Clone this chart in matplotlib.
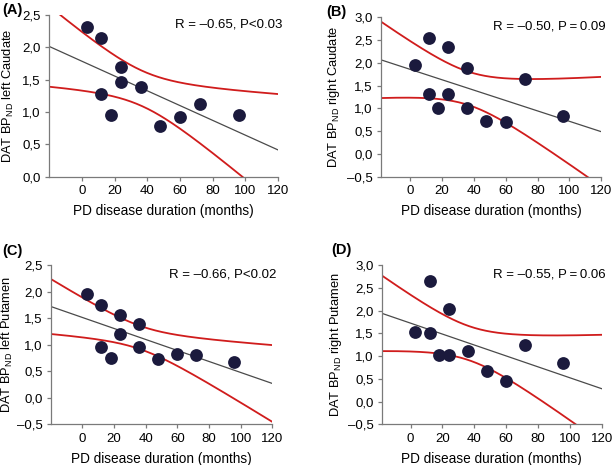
import numpy as np
import matplotlib
matplotlib.use("Agg")
import matplotlib.pyplot as plt
from matplotlib.ticker import FuncFormatter

plt.rcParams['font.family'] = ['Liberation Sans', 'DejaVu Sans']
plt.rcParams['mathtext.fontset'] = 'custom'
plt.rcParams['mathtext.rm'] = 'Liberation Sans'

# 데이터
x_a = [3, 12, 12, 18, 24, 24, 36, 48, 60, 72, 96]
y_a = [2.31, 2.14, 1.28, 0.95, 1.69, 1.47, 1.38, 0.79, 0.92, 1.12, 0.95]

x_b = [3, 12, 12, 18, 24, 24, 36, 36, 48, 60, 72, 96]
y_b = [1.95, 2.54, 1.32, 1.00, 2.34, 1.32, 1.88, 1.00, 0.72, 0.71, 1.64, 0.84]

x_c = [3, 12, 12, 18, 24, 24, 36, 36, 48, 60, 72, 96]
y_c = [1.95, 1.76, 0.96, 0.75, 1.56, 1.21, 1.40, 0.96, 0.74, 0.83, 0.81, 0.68]

x_d = [3, 12, 12, 18, 24, 24, 36, 48, 60, 72, 96]
y_d = [1.53, 2.65, 1.51, 1.03, 2.03, 1.03, 1.11, 0.67, 0.45, 1.25, 0.86]

titles = ["(A)", "(B)", "(C)", "(D)"]
ylabels = ["DAT BP$_\\mathregular{ND}$ left Caudate",
           "DAT BP$_\\mathregular{ND}$ right Caudate",
           "DAT BP$_\\mathregular{ND}$ left Putamen",
           "DAT BP$_\\mathregular{ND}$ right Putamen"]
stats = ["R = \u20130.65, P<0.03", "R = \u20130.50, P\u2009=\u20090.09",
         "R = \u20130.66, P<0.02", "R = \u20130.55, P\u2009=\u20090.06"]
ylims = [(0, 2.5), (-0.5, 3.0), (-0.5, 2.5), (-0.5, 3.0)]
xmins = [-20, -18, -20, -18]

# t(0.975, df)
t_val = {9: 2.262, 10: 2.228}

# 축 위치 [left, bottom, width, height]
positions = [[0.080, 0.620, 0.373, 0.348],
             [0.6205, 0.620, 0.359, 0.343],
             [0.0826, 0.0875, 0.361, 0.342],
             [0.622, 0.0875, 0.358, 0.342]]
label_pos = [(0.003, 0.978), (0.532, 0.974), (0.003, 0.46), (0.540, 0.462)]
ylabel_x = [-0.145, -0.177, -0.16, -0.173]

dot_color = "#1b1a3d"
red = "#d01c1c"
axis_color = "#7a7a7a"


def comma_fmt(v, pos):
    s = f"{v:.1f}".replace(".", ",")
    return s.replace("-", "\u2013")


fig = plt.figure(figsize=(6.14, 4.65), dpi=100)
data = [(x_a, y_a), (x_b, y_b), (x_c, y_c), (x_d, y_d)]

for i, (xs, ys) in enumerate(data):
    ax = fig.add_axes(positions[i])
    x = np.array(xs, dtype=float)
    y = np.array(ys, dtype=float)
    n = len(x)

    # 회귀선 + 95% 신뢰구간
    slope, intercept = np.polyfit(x, y, 1)
    xx = np.linspace(xmins[i], 120, 200)
    fit = intercept + slope * xx
    resid = y - (intercept + slope * x)
    s = np.sqrt(np.sum(resid ** 2) / (n - 2))
    sxx = np.sum((x - x.mean()) ** 2)
    half = t_val[n - 2] * s * np.sqrt(1 / n + (xx - x.mean()) ** 2 / sxx)

    ax.plot(xx, fit, color="#4a4a4a", lw=0.9, zorder=2)
    ax.plot(xx, fit + half, color=red, lw=1.3, zorder=2)
    ax.plot(xx, fit - half, color=red, lw=1.3, zorder=2)
    ax.scatter(x, y, s=85, color=dot_color, zorder=3, linewidths=0)

    ax.set_xlim(xmins[i], 120)
    ax.set_ylim(*ylims[i])
    ax.set_xticks(range(0, 121, 20))
    ax.set_yticks(np.arange(ylims[i][0], ylims[i][1] + 0.01, 0.5))
    ax.yaxis.set_major_formatter(FuncFormatter(comma_fmt))

    for side in ["top", "right"]:
        ax.spines[side].set_visible(False)
    for side in ["left", "bottom"]:
        ax.spines[side].set_color(axis_color)
        ax.spines[side].set_linewidth(0.9)
    ax.tick_params(colors=axis_color, labelcolor="black", labelsize=9.5,
                   length=3, width=0.9, pad=3)

    ax.set_xlabel("PD disease duration (months)", fontsize=9.8, labelpad=5)
    ax.set_ylabel(ylabels[i], fontsize=9.3)
    ax.yaxis.set_label_coords(ylabel_x[i], 0.5)
    ax.text(1.02, 0.94, stats[i], transform=ax.transAxes, ha="right",
            va="center", fontsize=9.5)
    fig.text(label_pos[i][0], label_pos[i][1], titles[i], fontsize=10.5,
             fontweight="bold", va="center", ha="left")

fig.savefig("out.png", dpi=100)
